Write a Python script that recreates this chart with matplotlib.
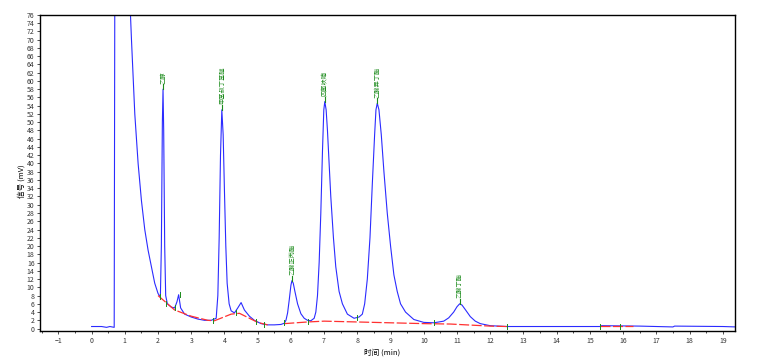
import matplotlib
matplotlib.use("Agg")
import matplotlib.pyplot as plt
from matplotlib.ticker import MultipleLocator

plt.rcParams['font.family'] = ['Noto Sans CJK SC', 'DejaVu Sans']

# chromatogram trace (time in min, signal in mV)
time_min = [0.0, 0.3, 0.45, 0.55, 0.68, 0.70, 1.1, 1.2, 1.3, 1.4, 1.5, 1.6, 1.7, 1.8, 1.9, 2.0,
            2.07, 2.1, 2.13, 2.15, 2.17, 2.2, 2.23, 2.28, 2.4, 2.5, 2.57, 2.62, 2.68, 2.8,
            3.0, 3.2, 3.4, 3.6, 3.75, 3.8, 3.84, 3.88, 3.92, 3.96, 4.0, 4.04, 4.08, 4.14, 4.2,
            4.3, 4.4, 4.5, 4.6, 4.75, 4.9, 5.1, 5.3, 5.5, 5.7,
            5.8, 5.85, 5.9, 5.95, 6.0, 6.03, 6.07, 6.12, 6.2, 6.3, 6.4, 6.5, 6.6,
            6.7, 6.75, 6.8, 6.85, 6.9, 6.95, 6.99, 7.02, 7.06, 7.1, 7.15, 7.2, 7.28, 7.35,
            7.45, 7.55, 7.7, 7.9, 8.05,
            8.15, 8.22, 8.3, 8.38, 8.45, 8.52, 8.56, 8.6, 8.65, 8.72, 8.8, 8.9, 9.0, 9.1,
            9.2, 9.3, 9.45, 9.7, 10.0, 10.3,
            10.6, 10.75, 10.9, 11.0, 11.08, 11.15, 11.25, 11.4, 11.55, 11.7, 12.0,
            12.5, 13.5, 15.3, 15.35, 16.5, 17.5, 17.55, 19.0, 19.4]
signal_mv = [0.5, 0.5, 0.3, 0.5, 0.3, 90, 90, 70, 52, 40, 31, 24, 19, 15, 11, 8.5,
             7.6, 20, 50, 58, 48, 20, 8, 6, 5.2, 5, 6.5, 8.2, 5, 3.5,
             2.8, 2.3, 2.0, 2.0, 2.5, 8, 22, 42, 53, 47, 33, 20, 11, 6, 4.3,
             3.8, 5, 6.3, 4.5, 3, 2, 1.2, 0.9, 0.9, 1.0,
             1.3, 2, 3.8, 7, 10.5, 11.6, 11, 9, 6, 3.6, 2.5, 2.0, 1.9,
             2.5, 4, 8, 16, 28, 43, 53, 55, 53, 48, 40, 32, 22, 15,
             9, 6, 3.5, 2.5, 2.8,
             3.5, 6, 12, 22, 35, 47, 53, 54.6, 53, 47, 38, 28, 20, 13,
             9, 6, 4, 2.2, 1.5, 1.4,
             1.8, 2.6, 4, 5.3, 6, 5.7, 4.6, 2.9, 1.8, 1.2, 0.7,
             0.5, 0.5, 0.5, 0.7, 0.6, 0.4, 0.6, 0.5, 0.4]

# integration baselines
base1_t = [2.0, 2.5, 3.0, 3.5, 3.7, 4.2, 4.45, 5.0, 5.3]
base1_v = [8, 4.5, 3, 2.0, 1.9, 3.5, 3.7, 1.5, 0.9]
base2_t = [5.8, 6.5, 7.0, 8.0, 9.0, 10.0, 10.8, 12.0, 12.5]
base2_v = [1.2, 1.6, 1.8, 1.6, 1.4, 1.2, 1.1, 0.6, 0.5]
base3_t = [15.3, 16.3]
base3_v = [0.6, 0.6]

# peak marks
mark_t = [2.05, 2.25, 2.5, 2.65, 3.65, 4.35, 4.95, 5.2, 5.8, 6.5, 8.0, 10.3, 12.5, 15.3, 15.9]
mark_v = [7.8, 6.0, 5.0, 8.2, 2.0, 3.8, 1.8, 1.0, 1.5, 1.8, 2.6, 1.4, 0.5, 0.5, 0.6]

# labelled peaks
peak_t = [2.15, 3.92, 6.03, 7.02, 8.6, 11.08]
peak_v = [58, 53, 11.6, 55, 54.6, 6]
peak_names = ["乙醇", "甲基叔丁基醚", "乙酸正丙酯", "四氢呋喃", "乙酸异丁酯", "乙酸丁酯"]

fig = plt.figure(figsize=(7.57, 3.63), dpi=100)
ax = fig.add_axes([0.053, 0.088, 0.918, 0.871])

ax.plot(time_min, signal_mv, color='#2b2bff', lw=0.8)
for bt, bv in [(base1_t, base1_v), (base2_t, base2_v), (base3_t, base3_v)]:
    ax.plot(bt, bv, color='#ff3030', lw=0.9, dashes=(8, 2))
for t, v in zip(mark_t, mark_v):
    ax.plot([t, t], [v - 0.6, v + 0.6], color='#1a8a1a', lw=0.7)
for t, v, name in zip(peak_t, peak_v, peak_names):
    ax.plot([t, t], [v, v + 1.2], color='#1a8a1a', lw=0.8)
    ax.text(t, v + 1.3, name, rotation=90, ha='center', va='bottom',
            fontsize=4.5, color='#1a8a1a')

ax.set_xlim(-1.55, 19.37)
ax.set_ylim(-0.6, 76)
ax.xaxis.set_major_locator(MultipleLocator(1))
ax.xaxis.set_minor_locator(MultipleLocator(0.5))
ax.yaxis.set_major_locator(MultipleLocator(2))
ax.tick_params(axis='both', labelsize=5, length=2, width=0.6, colors='#333333', pad=2)
ax.tick_params(axis='x', which='minor', length=1.5, width=0.5)
for s in ax.spines.values():
    s.set_linewidth(1.0)
    s.set_color('black')

fig.text(0.028, 0.5, "信号 (mV)", rotation=90, ha='center', va='center', fontsize=5.5)
fig.text(0.505, 0.03, "时间 (min)", ha='center', va='center', fontsize=5.5)

fig.savefig("out.png", dpi=100)
